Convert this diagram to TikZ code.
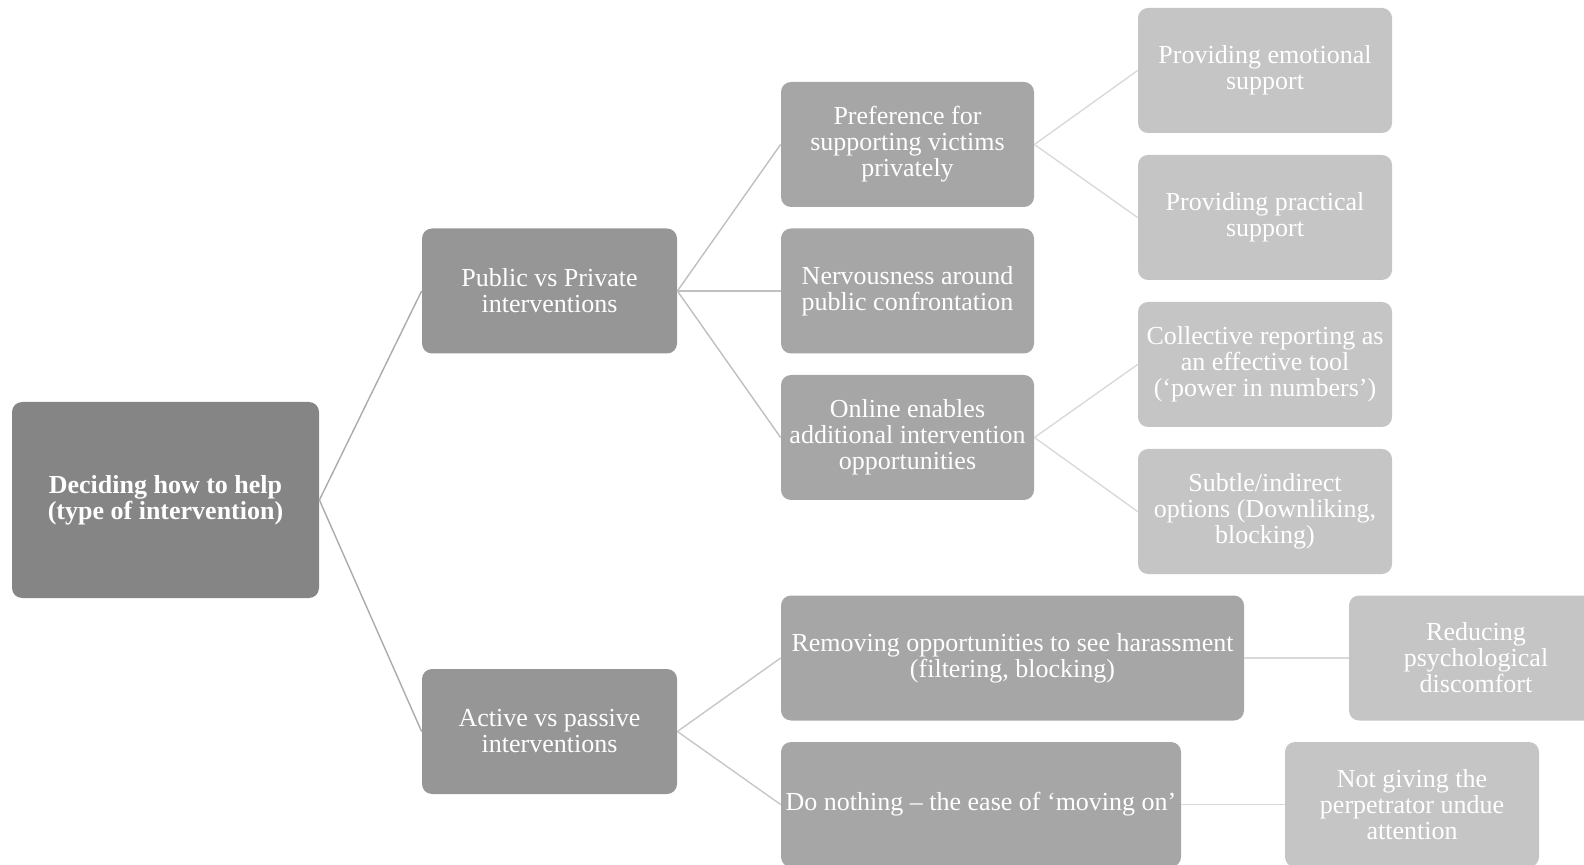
\documentclass[tikz,border=0pt]{standalone}
\usepackage{fontspec}
\setmainfont{Liberation Serif}
\usepackage{tikz}

\definecolor{rootgray}{RGB}{133,133,133}
\definecolor{firstgray}{RGB}{150,150,150}
\definecolor{secondgray}{RGB}{166,166,166}
\definecolor{thirdgray}{RGB}{197,197,197}

\begin{document}
\begin{tikzpicture}[x=0.5pt,y=-0.5pt]
        \tikzstyle{box} = [rounded corners=5pt, text=white, align=center, inner sep=1pt,
                           font=\fontsize{13}{13}\selectfont, minimum height=62.5pt]
        \tikzstyle{root} = [box, fill=rootgray, minimum width=153.5pt, minimum height=98pt,
                            font=\fontsize{13}{13}\selectfont\bfseries]
        \tikzstyle{first} = [box, fill=firstgray, minimum width=127.5pt]
        \tikzstyle{second} = [box, fill=secondgray, minimum width=126.5pt]
        \tikzstyle{third} = [box, fill=thirdgray, minimum width=127pt]
        \tikzstyle{link} = [line width=0.7pt]

        \useasboundingbox (0,0) rectangle (1584,865);

        % Nodo raiz
        \node[root](root) at (165.5, 500) {Deciding how to help\\(type of intervention)};

        % Primer nivel
        \node[first](public) at (549.5, 291) {Public vs Private\\interventions};
        \node[first](active) at (549.5, 731.5) {Active vs passive\\interventions};

        % Segundo nivel
        \node[second](pref) at (907.5, 144.5) {Preference for\\supporting victims\\privately};
        \node[second](nerv) at (907.5, 291) {Nervousness around\\public confrontation};
        \node[second](online) at (907.5, 437.5) {Online enables\\additional intervention\\opportunities};
        \node[second, minimum width=231.5pt](remove) at (1012.5, 658) {Removing opportunities to see harassment\\(filtering, blocking)};
        \node[second, minimum width=200pt](nothing) at (981, 804.5) {Do nothing -- the ease of `moving on'};

        % Tercer nivel
        \node[third](emotional) at (1265, 70.5) {Providing emotional\\support};
        \node[third](practical) at (1265, 217.5) {Providing practical\\support};
        \node[third](collective) at (1265, 364.5) {Collective reporting as\\an effective tool\\(`power in numbers')};
        \node[third](subtle) at (1265, 511.5) {Subtle/indirect\\options (Downliking,\\blocking)};
        \node[third](reducing) at (1476, 658) {Reducing\\psychological\\discomfort};
        \node[third](notgiving) at (1412, 804.5) {Not giving the\\perpetrator undue\\attention};

        % Enlaces desde la raiz
        \foreach \j in {public,active}
            \draw[link, color=black!33] (root.east) -- (\j.west);

        % Enlaces al segundo nivel
        \foreach \j in {pref,nerv,online}
            \draw[link, color=black!25] (public.east) -- (\j.west);
        \foreach \j in {remove,nothing}
            \draw[link, color=black!22] (active.east) -- (\j.west);

        % Enlaces al tercer nivel
        \foreach \j in {emotional,practical}
            \draw[link, color=black!15] (pref.east) -- (\j.west);
        \foreach \j in {collective,subtle}
            \draw[link, color=black!15] (online.east) -- (\j.west);
        \draw[link, color=black!15] (remove.east) -- (reducing.west);
        \draw[link, color=black!15] (nothing.east) -- (notgiving.west);
    \end{tikzpicture}
\end{document}
